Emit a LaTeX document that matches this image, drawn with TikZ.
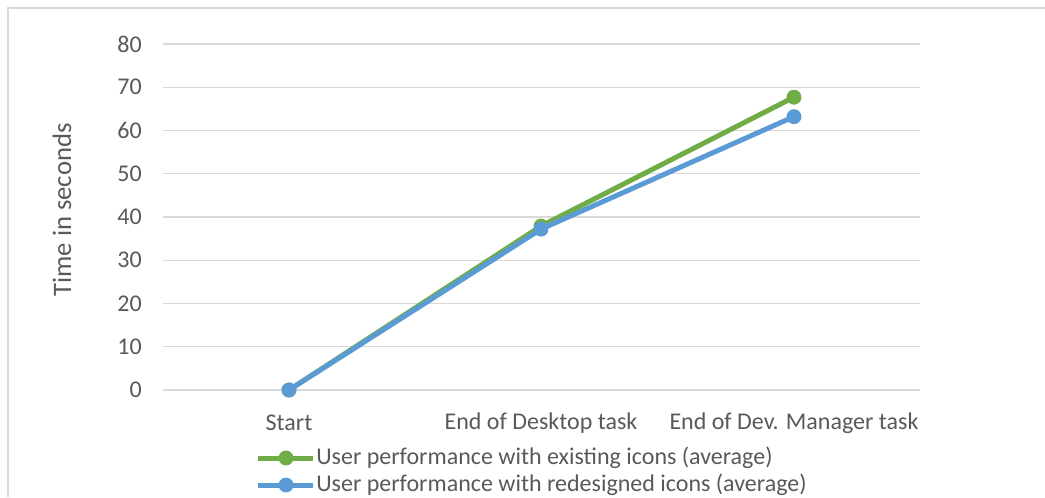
\documentclass[tikz,border=0pt]{standalone}
\usepackage{fontspec}
\setmainfont{Carlito}
\definecolor{gridgray}{HTML}{D9D9D9}
\definecolor{labelgray}{HTML}{595959}
\definecolor{seriesgreen}{HTML}{70AD47}
\definecolor{seriesblue}{HTML}{5B9BD5}
\begin{document}
\begin{tikzpicture}[x=0.75pt,y=-0.75pt,
  lbl/.style={text=labelgray,font=\fontsize{18}{21}\selectfont,inner sep=0pt},
  grid line/.style={draw=gridgray,line width=1.1pt},
  series/.style={line width=3.75pt,line cap=round,line join=round},
  dot/.style={circle,fill=#1,inner sep=0pt,minimum size=11.2pt}]
\useasboundingbox (0,0) rectangle (1045,497);
% outer chart frame
\draw[gridgray,line width=1.1pt] (8,497) -- (8,8) -- (1045,8);
% horizontal gridlines and value labels
\foreach \v in {0,10,...,80}{
  \pgfmathsetmacro{\yy}{390-4.325*\v}
  \draw[grid line] (163,\yy) -- (920,\yy);
  \node[lbl,anchor=east] (tick\v) at (142,\yy) {\v};
}
% axis title
\node[lbl,rotate=90,font=\fontsize{20}{24}\selectfont] (ytitle) at (62,210) {Time in seconds};
% category labels
\node[lbl] (catA) at (289,423) {Start};
\node[lbl] (catB) at (541,423) {End of Desktop task};
\node[lbl] (catC) at (794,423) {End of Dev. Manager task};
% data points
\coordinate (g1) at (289,390);
\coordinate (g2) at (541,{390-4.325*37.9});
\coordinate (g3) at (794,{390-4.325*67.7});
\coordinate (b1) at (289,390);
\coordinate (b2) at (541,{390-4.325*37.2});
\coordinate (b3) at (794,{390-4.325*63.2});
% existing icons series
\draw[series,seriesgreen] (g1) -- (g2) -- (g3);
\foreach \p in {g1,g2,g3} \node[dot=seriesgreen] (m\p) at (\p) {};
% redesigned icons series
\draw[series,seriesblue] (b1) -- (b2) -- (b3);
\foreach \p in {b1,b2,b3} \node[dot=seriesblue] (m\p) at (\p) {};
% legend
\coordinate (lgA) at (258,458);
\coordinate (lgB) at (313,458);
\draw[series,seriesgreen,line cap=butt] (lgA) -- (lgB);
\node[dot=seriesgreen] (lgdotA) at (286,458) {};
\node[lbl,anchor=west] (legA) at (316,458) {User performance with existing icons (average)};
\coordinate (lbA) at (258,485);
\coordinate (lbB) at (313,485);
\draw[series,seriesblue,line cap=butt] (lbA) -- (lbB);
\node[dot=seriesblue] (lgdotB) at (286,485) {};
\node[lbl,anchor=west] (legB) at (316,485) {User performance with redesigned icons (average)};
\end{tikzpicture}
\end{document}
